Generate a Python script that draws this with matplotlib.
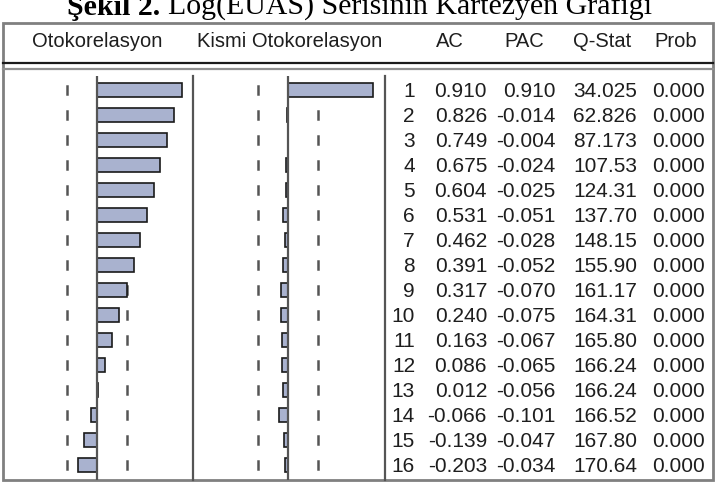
import numpy as np
import matplotlib.pyplot as plt

# correlogram values (EViews output)
lags = list(range(1, 17))
ac = [0.910, 0.826, 0.749, 0.675, 0.604, 0.531, 0.462, 0.391,
      0.317, 0.240, 0.163, 0.086, 0.012, -0.066, -0.139, -0.203]
pac = [0.910, -0.014, -0.004, -0.024, -0.025, -0.051, -0.028, -0.052,
       -0.070, -0.075, -0.067, -0.065, -0.056, -0.101, -0.047, -0.034]
q_stat = ["34.025", "62.826", "87.173", "107.53", "124.31", "137.70", "148.15", "155.90",
          "161.17", "164.31", "165.80", "166.24", "166.24", "166.52", "167.80", "170.64"]
prob = ["0.000"] * 16
n_obs = 38
headers = ["Otokorelasyon", "Kismi Otokorelasyon", "AC", "PAC", "Q-Stat", "Prob"]

W, H = 717, 483
fig = plt.figure(figsize=(W / 100, H / 100), dpi=100)
plt.rcParams['font.family'] = ['Liberation Sans', 'DejaVu Sans']

bar_col = '#a9b2cf'
line_col = '#555555'
txt_col = '#1e1e1e'
band = 2 / np.sqrt(n_obs)
ylim = (16.6, 0.44)


def box(x0, x1):
    # axes in pixel terms, body area from y=76 to y=480
    return [x0 / W, 1 - 480 / H, (x1 - x0) / W, 404 / H]


# frame / overlay
bg = fig.add_axes([0, 0, 1, 1])
bg.set_xlim(0, W)
bg.set_ylim(H, 0)
bg.axis('off')
bg.add_patch(plt.Rectangle((3, 23), 710, 457, fill=False, ec='#808080', lw=2))
bg.plot([3, 713], [63, 63], color='#1a1a1a', lw=1.6)
bg.plot([3, 713], [68.5, 68.5], color='#909090', lw=1.6)
for xv in [193, 384.5]:
    bg.plot([xv, xv], [76, 480], color=line_col, lw=1.6)

# title (cut at top like in the source)
fig.text(67 / W, 1 - 15 / H, "Şekil 2.", family='Liberation Serif', weight='bold',
         fontsize=21.5, va='baseline', ha='left')
fig.text(168 / W, 1 - 15 / H, "Log(EUAS) Serisinin Kartezyen Grafiği", family='Liberation Serif',
         fontsize=21.5, va='baseline', ha='left')

# header
head_x = [97, 289.5, 450, 524.5, 602, 676]
for hx, lab in zip(head_x, headers):
    bg.text(hx, 47, lab, fontsize=14.5, ha='center', va='baseline', color=txt_col)


def correlogram(ax, vals):
    ax.set_xlim(-1.0245, 1.0245)
    ax.set_ylim(*ylim)
    ax.axis('off')
    for k in lags:
        ax.plot([-band, -band], [k - 0.16, k + 0.16], color=line_col, lw=1.8, zorder=1)
        ax.plot([band, band], [k - 0.16, k + 0.16], color=line_col, lw=1.8, zorder=1)
    ax.barh(lags, vals, height=0.55, color=bar_col, edgecolor='#1a1a1a', lw=1.2, zorder=2)
    ax.axvline(0, color=line_col, lw=1.6, zorder=3)


ax1 = fig.add_axes(box(1, 193))
ax1.patch.set_alpha(0)
correlogram(ax1, ac)
ax2 = fig.add_axes(box(192, 384))
ax2.patch.set_alpha(0)
correlogram(ax2, pac)

# table
tab = fig.add_axes(box(384, 713))
tab.patch.set_alpha(0)
tab.set_xlim(384, 713)
tab.set_ylim(*ylim)
tab.axis('off')
fs = 15
for i, k in enumerate(lags):
    yb = k + 0.28
    tab.text(415, yb, str(k), ha='right', va='baseline', fontsize=fs, color=txt_col)
    tab.text(487, yb, f"{ac[i]:.3f}", ha='right', va='baseline', fontsize=fs, color=txt_col)
    tab.text(555.5, yb, f"{pac[i]:.3f}", ha='right', va='baseline', fontsize=fs, color=txt_col)
    tab.text(637, yb, q_stat[i], ha='right', va='baseline', fontsize=fs, color=txt_col)
    tab.text(705, yb, prob[i], ha='right', va='baseline', fontsize=fs, color=txt_col)

fig.savefig('out.png', dpi=100)
